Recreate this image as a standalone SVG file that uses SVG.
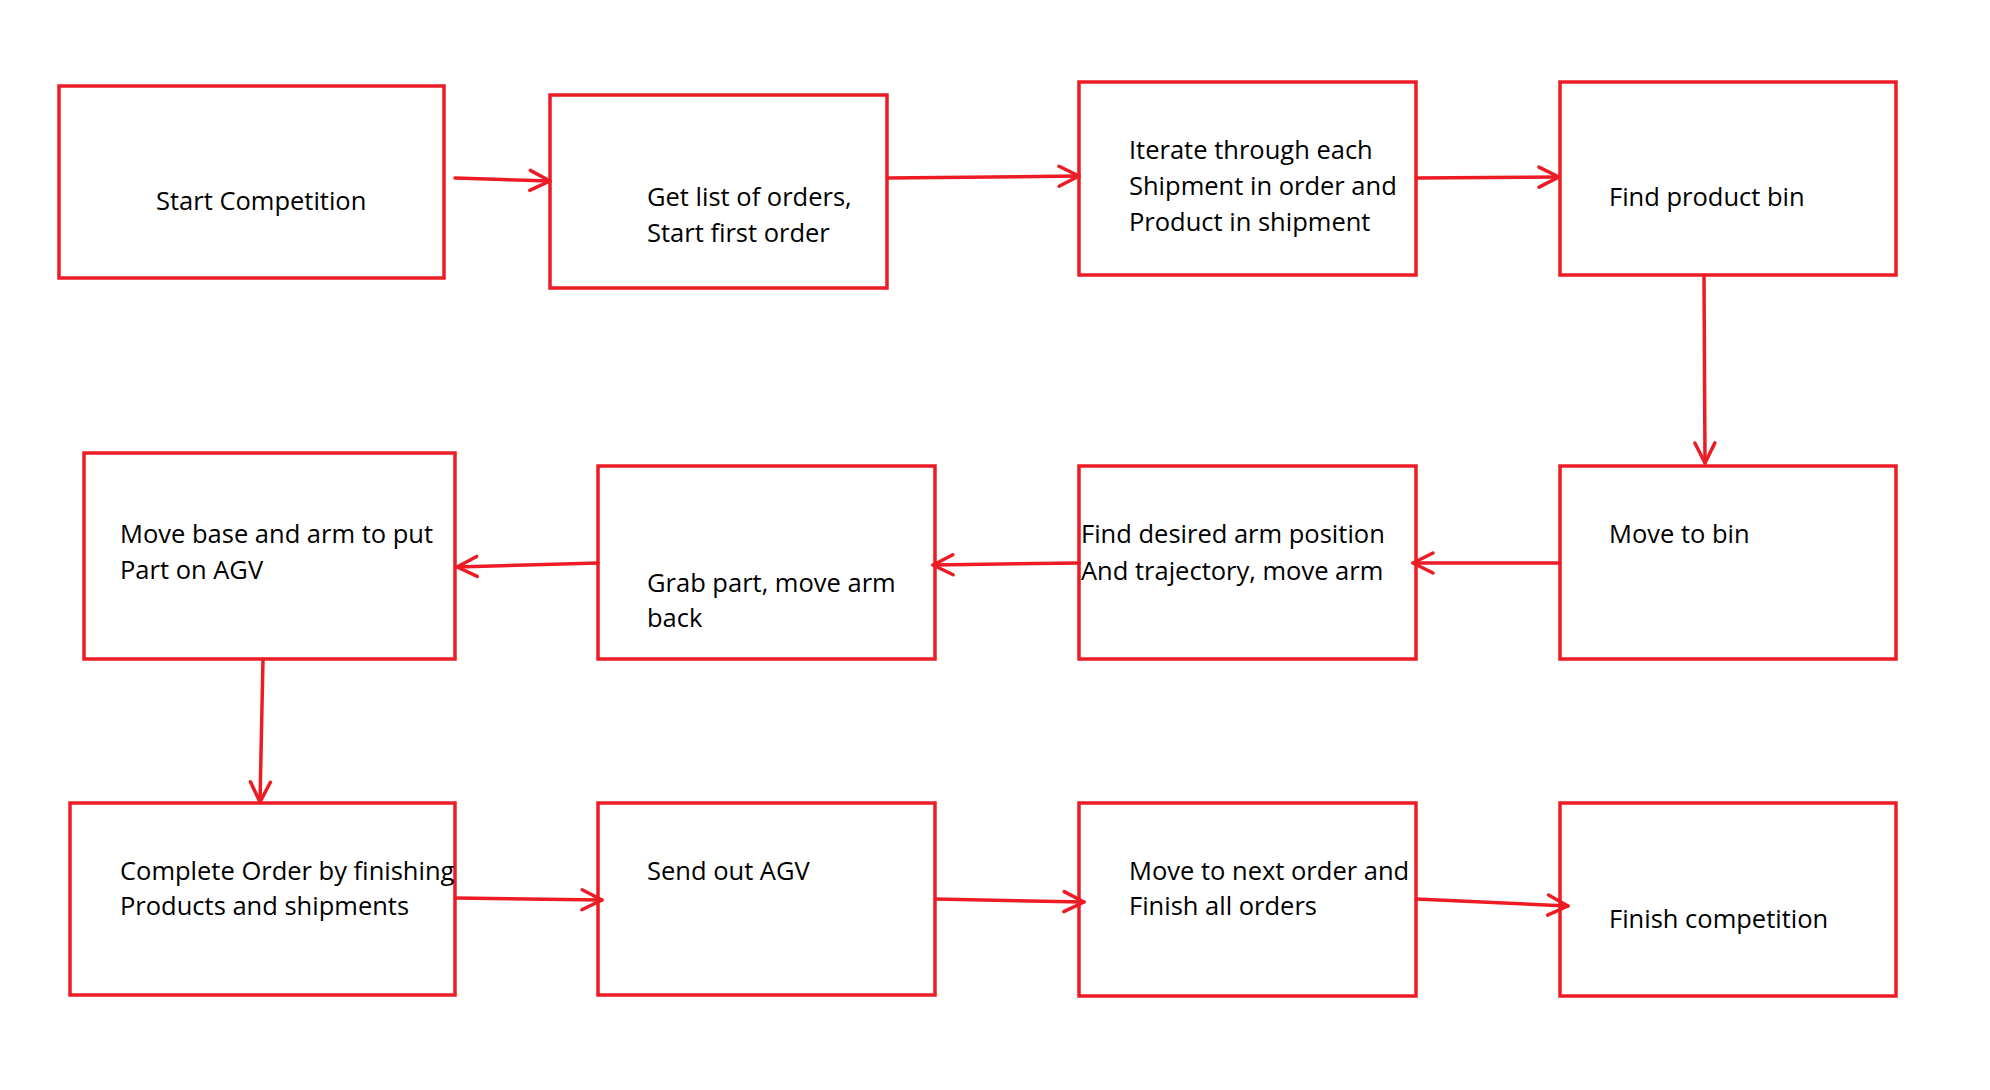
<svg xmlns="http://www.w3.org/2000/svg" width="1990" height="1090" viewBox="0 0 1990 1090">
<style>
.box{fill:#ffffff;stroke:#ED1C24;stroke-width:3.5}
.lbl{font-family:"Open Sans","Liberation Sans",sans-serif;font-size:25.5px;fill:#000000}
.con{fill:none;stroke:#ED1C24;stroke-width:3.5;stroke-linecap:round;marker-end:url(#arr)}
</style>
<defs>
<marker id="arr" markerUnits="userSpaceOnUse" markerWidth="30" markerHeight="30" viewBox="-25 -15 30 30" refX="0" refY="0" orient="auto">
<path d="M-20,-10 L0,0 L-20,10" fill="none" stroke="#ED1C24" stroke-width="3.5" stroke-linecap="round" stroke-linejoin="round"/>
</marker>
</defs>
<rect width="1990" height="1090" fill="#ffffff"/>
<g id="n1"><rect class="box" x="59" y="86" width="385" height="192"/><text class="lbl" x="156" y="210">Start Competition</text></g>
<g id="n2"><rect class="box" x="550" y="95" width="337" height="193"/><text class="lbl" x="647" y="206">Get list of orders,</text><text class="lbl" x="647" y="242">Start first order</text></g>
<g id="n3"><rect class="box" x="1079" y="82" width="337" height="193"/><text class="lbl" x="1129" y="159">Iterate through each</text><text class="lbl" x="1129" y="195">Shipment in order and</text><text class="lbl" x="1129" y="231">Product in shipment</text></g>
<g id="n4"><rect class="box" x="1560" y="82" width="336" height="193"/><text class="lbl" x="1609" y="206">Find product bin</text></g>
<g id="n5"><rect class="box" x="84" y="453" width="371" height="206"/><text class="lbl" x="120" y="543">Move base and arm to put</text><text class="lbl" x="120" y="579">Part on AGV</text></g>
<g id="n6"><rect class="box" x="598" y="466" width="337" height="193"/><text class="lbl" x="647" y="592">Grab part, move arm</text><text class="lbl" x="647" y="627">back</text></g>
<g id="n7"><rect class="box" x="1079" y="466" width="337" height="193"/><text class="lbl" x="1081" y="543">Find desired arm position</text><text class="lbl" x="1081" y="580">And trajectory, move arm</text></g>
<g id="n8"><rect class="box" x="1560" y="466" width="336" height="193"/><text class="lbl" x="1609" y="543">Move to bin</text></g>
<g id="n9"><rect class="box" x="70" y="803" width="385" height="192"/><text class="lbl" x="120" y="880">Complete Order by finishing</text><text class="lbl" x="120" y="915">Products and shipments</text></g>
<g id="n10"><rect class="box" x="598" y="803" width="337" height="192"/><text class="lbl" x="647" y="880">Send out AGV</text></g>
<g id="n11"><rect class="box" x="1079" y="803" width="337" height="193"/><text class="lbl" x="1129" y="880">Move to next order and</text><text class="lbl" x="1129" y="915">Finish all orders</text></g>
<g id="n12"><rect class="box" x="1560" y="803" width="336" height="193"/><text class="lbl" x="1609" y="928">Finish competition</text></g>
<g id="connectors">
<path class="con" d="M455,178 L550,181"/>
<path class="con" d="M887,178 L1079,176"/>
<path class="con" d="M1416,178 L1559,177"/>
<path class="con" d="M1704,275 L1705,463"/>
<path class="con" d="M1560,563 L1413,563"/>
<path class="con" d="M1079,563 L933,565"/>
<path class="con" d="M598,563 L457,567"/>
<path class="con" d="M263,659 L260,802"/>
<path class="con" d="M455,898 L602,900"/>
<path class="con" d="M935,899 L1084,902"/>
<path class="con" d="M1416,899 L1568,906"/>
</g>
</svg>
